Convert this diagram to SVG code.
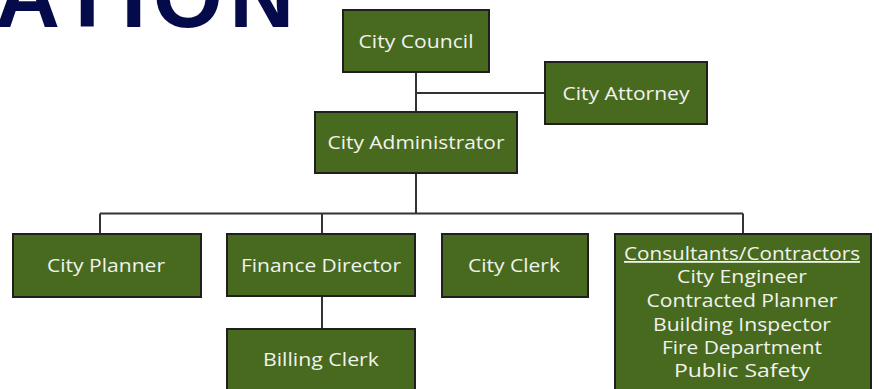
<svg xmlns="http://www.w3.org/2000/svg" width="879" height="389" viewBox="0 0 879 389">
<style>
.box{fill:#476a1f;stroke:#1f1f1f;stroke-width:2}
.lbl{font-family:"Open Sans","Noto Sans",sans-serif;font-size:18px;fill:#f2f2ee;text-anchor:middle}
.conn{fill:none;stroke:#333333;stroke-width:2}
.title{font-family:"Liberation Sans",Arial,sans-serif;font-weight:bold;font-size:90px;fill:#040a4a}
</style>
<rect width="879" height="389" fill="#ffffff"/>
<text class="title" x="-5" y="27" letter-spacing="6.5">ATION</text>
<g id="connectors">
<path class="conn" d="M416,72 V112 M416,93 H545 M416,173 V213.5 M100,213.5 H743 M100,213.5 V234 M322,213.5 V234 M743,213.5 V234 M322,296 V329"/>
</g>
<g id="city-council"><rect class="box" x="343" y="10" width="146" height="62"/><text class="lbl" x="416" y="48" textLength="115" lengthAdjust="spacingAndGlyphs">City Council</text></g>
<g id="city-attorney"><rect class="box" x="545" y="62" width="162" height="62"/><text class="lbl" x="626" y="100" textLength="127" lengthAdjust="spacingAndGlyphs">City Attorney</text></g>
<g id="city-administrator"><rect class="box" x="315" y="112" width="202" height="61"/><text class="lbl" x="416" y="149" textLength="177" lengthAdjust="spacingAndGlyphs">City Administrator</text></g>
<g id="city-planner"><rect class="box" x="13" y="234" width="188" height="63"/><text class="lbl" x="106" y="272" textLength="118" lengthAdjust="spacingAndGlyphs">City Planner</text></g>
<g id="finance-director"><rect class="box" x="227" y="234" width="188" height="62"/><text class="lbl" x="321" y="272" textLength="160" lengthAdjust="spacingAndGlyphs">Finance Director</text></g>
<g id="city-clerk"><rect class="box" x="442" y="234" width="146" height="63"/><text class="lbl" x="514" y="272" textLength="92" lengthAdjust="spacingAndGlyphs">City Clerk</text></g>
<g id="billing-clerk"><rect class="box" x="227" y="329" width="188" height="80"/><text class="lbl" x="321" y="366" textLength="116" lengthAdjust="spacingAndGlyphs">Billing Clerk</text></g>
<g id="consultants"><rect class="box" x="615" y="234" width="256" height="175"/>
<text class="lbl" x="742" y="260" text-decoration="underline" textLength="236" lengthAdjust="spacingAndGlyphs">Consultants/Contractors</text>
<text class="lbl" x="742" y="283" textLength="130" lengthAdjust="spacingAndGlyphs">City Engineer</text>
<text class="lbl" x="742" y="307" textLength="191" lengthAdjust="spacingAndGlyphs">Contracted Planner</text>
<text class="lbl" x="742" y="331" textLength="178" lengthAdjust="spacingAndGlyphs">Building Inspector</text>
<text class="lbl" x="742" y="354" textLength="160" lengthAdjust="spacingAndGlyphs">Fire Department</text>
<text class="lbl" x="742" y="377" textLength="136" lengthAdjust="spacingAndGlyphs">Public Safety</text>
</g>
</svg>
